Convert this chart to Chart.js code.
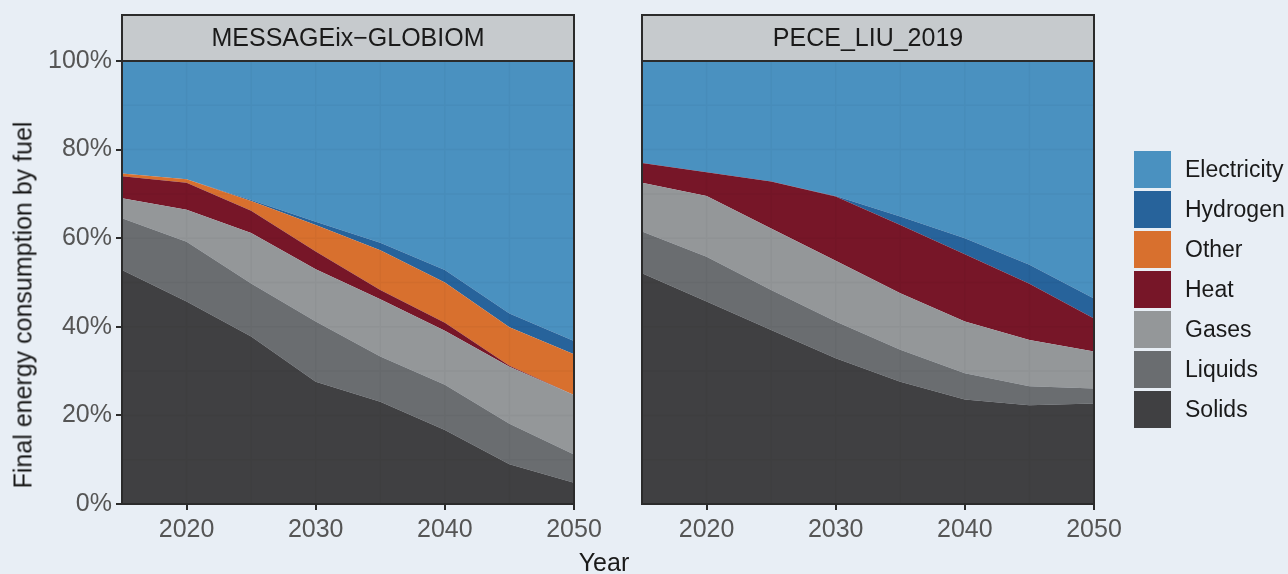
<!DOCTYPE html>
<html>
<head>
<meta charset="utf-8">
<script src="https://cdn.jsdelivr.net/npm/chart.js@4/dist/chart.umd.min.js"></script>
<style>
  body { margin: 0; background: #e8eef5; font-family: "Liberation Sans", Arial, sans-serif; }
  #wrap { position: relative; width: 1288px; height: 574px; overflow: hidden; }
  canvas { position: absolute; top: 0; }
  #ytitle {
    position: absolute; left: 23px; top: 305px; white-space: nowrap;
    transform: translate(-50%, -50%) rotate(-90deg);
    font-size: 25px; color: #1a1a1a;
  }
  #xtitle {
    position: absolute; left: 604px; top: 562px; transform: translate(-50%, -50%);
    font-size: 25px; color: #1a1a1a;
  }
  #legend { position: absolute; left: 1134px; top: 151px; }
  .item { display: flex; align-items: center; height: 37px; margin-bottom: 3px; }
  .box { width: 37px; height: 37px; margin-right: 14px; }
  .lbl { font-size: 23px; color: #1a1a1a; white-space: nowrap; }
</style>
</head>
<body>
<div id="wrap">
  <canvas id="left" width="640" height="574" style="left:0"></canvas>
  <canvas id="right" width="560" height="574" style="left:600px"></canvas>
  <div id="ytitle">Final energy consumption by fuel</div>
  <div id="xtitle">Year</div>
  <div id="legend"></div>
</div>
<script>
const years = [2015, 2020, 2025, 2030, 2035, 2040, 2045, 2050];
const xTicks = [2020, 2030, 2040, 2050];
const yTicks = [0, 20, 40, 60, 80, 100];

// stacking order, bottom first
const fuels = ["Solids", "Liquids", "Gases", "Heat", "Other", "Hydrogen", "Electricity"];
const fuelColors = ["#404042", "#6a6d70", "#949799", "#771628", "#d8702e", "#27639b", "#4a91c0"];

// MESSAGEix-GLOBIOM shares (%)
const msgSolids      = [52.8, 45.7, 37.8, 27.6, 23.1, 16.7, 9.0, 4.8];
const msgLiquids     = [11.7, 13.5, 12.0, 13.6, 10.2, 10.2, 9.1, 6.4];
const msgGases       = [4.5, 7.2, 11.4, 11.8, 12.9, 12.2, 12.9, 13.4];
const msgHeat        = [5.0, 6.1, 5.0, 4.0, 2.1, 1.8, 0.2, 0.0];
const msgOther       = [0.6, 0.8, 2.2, 6.0, 9.0, 9.1, 8.7, 9.2];
const msgHydrogen    = [0.0, 0.0, 0.2, 0.7, 1.7, 2.8, 3.1, 3.0];
const msgElectricity = [25.4, 26.7, 31.4, 36.3, 41.0, 47.2, 57.0, 63.2];

// PECE_LIU_2019 shares (%)
const pecSolids      = [52.1, 45.7, 39.3, 32.9, 27.6, 23.6, 22.3, 22.7];
const pecLiquids     = [9.4, 10.1, 9.0, 8.3, 7.2, 5.9, 4.3, 3.4];
const pecGases       = [11.0, 13.7, 13.9, 13.7, 12.8, 11.7, 10.4, 8.3];
const pecHeat        = [4.5, 5.4, 10.6, 14.5, 15.4, 15.2, 12.7, 7.5];
const pecOther       = [0, 0, 0, 0, 0, 0, 0, 0];
const pecHydrogen    = [0, 0, 0, 0.1, 1.9, 3.6, 4.3, 4.5];
const pecElectricity = [23.0, 25.1, 27.2, 30.5, 35.1, 40.0, 46.0, 53.6];

const msgSeries = [msgSolids, msgLiquids, msgGases, msgHeat, msgOther, msgHydrogen, msgElectricity];
const pecSeries = [pecSolids, pecLiquids, pecGases, pecHeat, pecOther, pecHydrogen, pecElectricity];

const FONT = "'Liberation Sans', Arial, sans-serif";

function buildDatasets(series) {
  return series.map((vals, i) => ({
    label: fuels[i],
    data: vals.map((v, j) => ({ x: years[j], y: v })),
    backgroundColor: fuelColors[i],
    borderColor: fuelColors[i],
    borderWidth: 0,
    pointRadius: 0,
    tension: 0,
    fill: i === 0 ? "origin" : "-1",
  }));
}

// faint grid showing through the areas (every 5 years, every 10%)
const faintGrid = {
  id: "faintGrid",
  afterDatasetsDraw(chart) {
    const { ctx, chartArea: a, scales } = chart;
    ctx.save();
    ctx.strokeStyle = "rgba(0,0,0,0.03)";
    ctx.lineWidth = 1.5;
    ctx.beginPath();
    for (let yr = 2020; yr < 2050; yr += 5) {
      const x = scales.x.getPixelForValue(yr);
      ctx.moveTo(x, a.top); ctx.lineTo(x, a.bottom);
    }
    for (let p = 10; p < 100; p += 10) {
      const y = scales.y.getPixelForValue(p);
      ctx.moveTo(a.left, y); ctx.lineTo(a.right, y);
    }
    ctx.stroke();
    ctx.restore();
  },
};

// strip on top + panel frame
const panelFrame = {
  id: "panelFrame",
  afterDraw(chart, args, opts) {
    const { ctx, chartArea: a } = chart;
    ctx.save();
    ctx.fillStyle = "#c6cacd";
    ctx.fillRect(a.left, 15, a.right - a.left, a.top - 15);
    ctx.strokeStyle = "#2b2b2b";
    ctx.lineWidth = 2;
    ctx.strokeRect(a.left, 15, a.right - a.left, a.top - 15);
    ctx.strokeRect(a.left, a.top, a.right - a.left, a.bottom - a.top);
    ctx.fillStyle = "#1a1a1a";
    ctx.font = "25px " + FONT;
    ctx.textAlign = "center";
    ctx.textBaseline = "middle";
    ctx.fillText(opts.title, (a.left + a.right) / 2, (15 + a.top) / 2 + 1);
    ctx.restore();
  },
};

function makeChart(id, series, title, yWidth, rightPad, showY) {
  const ctx = document.getElementById(id).getContext("2d");
  return new Chart(ctx, {
    type: "line",
    data: { datasets: buildDatasets(series) },
    options: {
      responsive: false,
      animation: false,
      layout: { autoPadding: false, padding: { top: 61, right: rightPad, left: 0, bottom: 0 } },
      plugins: {
        legend: { display: false },
        tooltip: { enabled: false },
        panelFrame: { title },
      },
      scales: {
        x: {
          type: "linear",
          min: 2015,
          max: 2050,
          afterBuildTicks: (s) => { s.ticks = xTicks.map((v) => ({ value: v })); },
          afterFit: (s) => { s.height = 70; s.paddingLeft = 0; s.paddingRight = 0; },
          grid: { drawOnChartArea: false, tickLength: 6, color: "#2b2b2b", lineWidth: 2 },
          border: { display: false },
          ticks: {
            color: "#555555",
            font: { family: FONT, size: 25 },
            padding: 5,
            maxRotation: 0,
            callback: (v) => String(v),
          },
        },
        y: {
          stacked: true,
          min: 0,
          max: 100,
          afterBuildTicks: (s) => { s.ticks = yTicks.map((v) => ({ value: v })); },
          afterFit: (s) => { s.width = yWidth; s.paddingTop = 0; s.paddingBottom = 0; },
          grid: { drawOnChartArea: false, drawTicks: showY, tickLength: 6, color: "#2b2b2b", lineWidth: 2 },
          border: { display: false },
          ticks: {
            display: showY,
            color: "#555555",
            font: { family: FONT, size: 25 },
            padding: 4,
            callback: (v) => v + "%",
          },
        },
      },
    },
    plugins: [faintGrid, panelFrame],
  });
}

// plot areas: left 122-574, right 642-1094
makeChart("left", msgSeries, "MESSAGEix\u2212GLOBIOM", 122, 66, true);
makeChart("right", pecSeries, "PECE_LIU_2019", 42, 66, false);

// legend, top entry is the top of the stack
const legend = document.getElementById("legend");
for (let i = fuels.length - 1; i >= 0; i--) {
  const item = document.createElement("div");
  item.className = "item";
  item.innerHTML = `<div class="box" style="background:${fuelColors[i]}"></div><div class="lbl">${fuels[i]}</div>`;
  legend.appendChild(item);
}
</script>
</body>
</html>
